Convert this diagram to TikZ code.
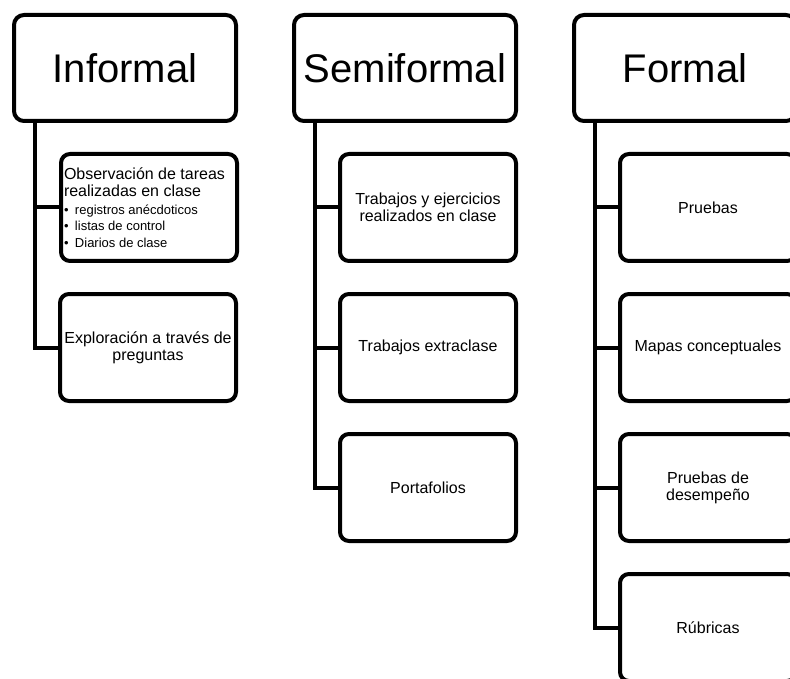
\documentclass[tikz,border=0pt]{standalone}
\usepackage{fontspec}
\setmainfont{Liberation Sans}
\usetikzlibrary{calc}
\tikzset{
 hdr/.style={draw, line width=4pt, rounded corners=10pt, minimum width=222pt, minimum height=106pt, inner sep=2pt, font=\fontsize{40}{48}\selectfont},
 item/.style={draw, line width=4pt, rounded corners=9pt, minimum width=176pt, minimum height=107pt, inner sep=2pt, align=center, font=\fontsize{16}{17}\selectfont},
 stem/.style={line width=4pt}
}
\newcommand{\bul}{\makebox[11pt][l]{\textbullet}}

\begin{document}
\begin{tikzpicture}[x=1pt,y=-1pt]
\useasboundingbox (0,0) rectangle (790,679);
\node[hdr] (inf) at (125,68) {Informal};
\node[hdr] (semi) at (405,68) {Semiformal};
\node[hdr] (form) at (685,68) {Formal};

\node[item, text width=170pt, align=left] (inf1) at (149,207.5) {\spaceskip=0pt\xspaceskip=0pt
 Observación de tareas\\realizadas en clase\par\vspace{2pt}
 \fontsize{13}{16}\selectfont \bul registros anécdoticos\\\bul listas de control\\\bul Diarios de clase};
\node[item] (inf2) at (148,347.5) {Exploración a través de\\preguntas};

\node[item] (semi1) at (428,207.5) {Trabajos y ejercicios\\realizados en clase};
\node[item] (semi2) at (428,347.5) {Trabajos extraclase};
\node[item] (semi3) at (428,487.5) {Portafolios};

\node[item] (form1) at (708,207.5) {Pruebas};
\node[item] (form2) at (708,347.5) {Mapas conceptuales};
\node[item] (form3) at (708,487.5) {Pruebas de\\desempeño};
\node[item] (form4) at (708,627.5) {Rúbricas};

\foreach \c/\k in {inf/2, semi/3, form/4} {
 \coordinate (\c-top) at ([xshift=23pt]\c.south west);
 \foreach \i in {1,...,\k}
  \draw[stem] (\c-top) |- (\c\i.west);
}
\end{tikzpicture}
\end{document}
